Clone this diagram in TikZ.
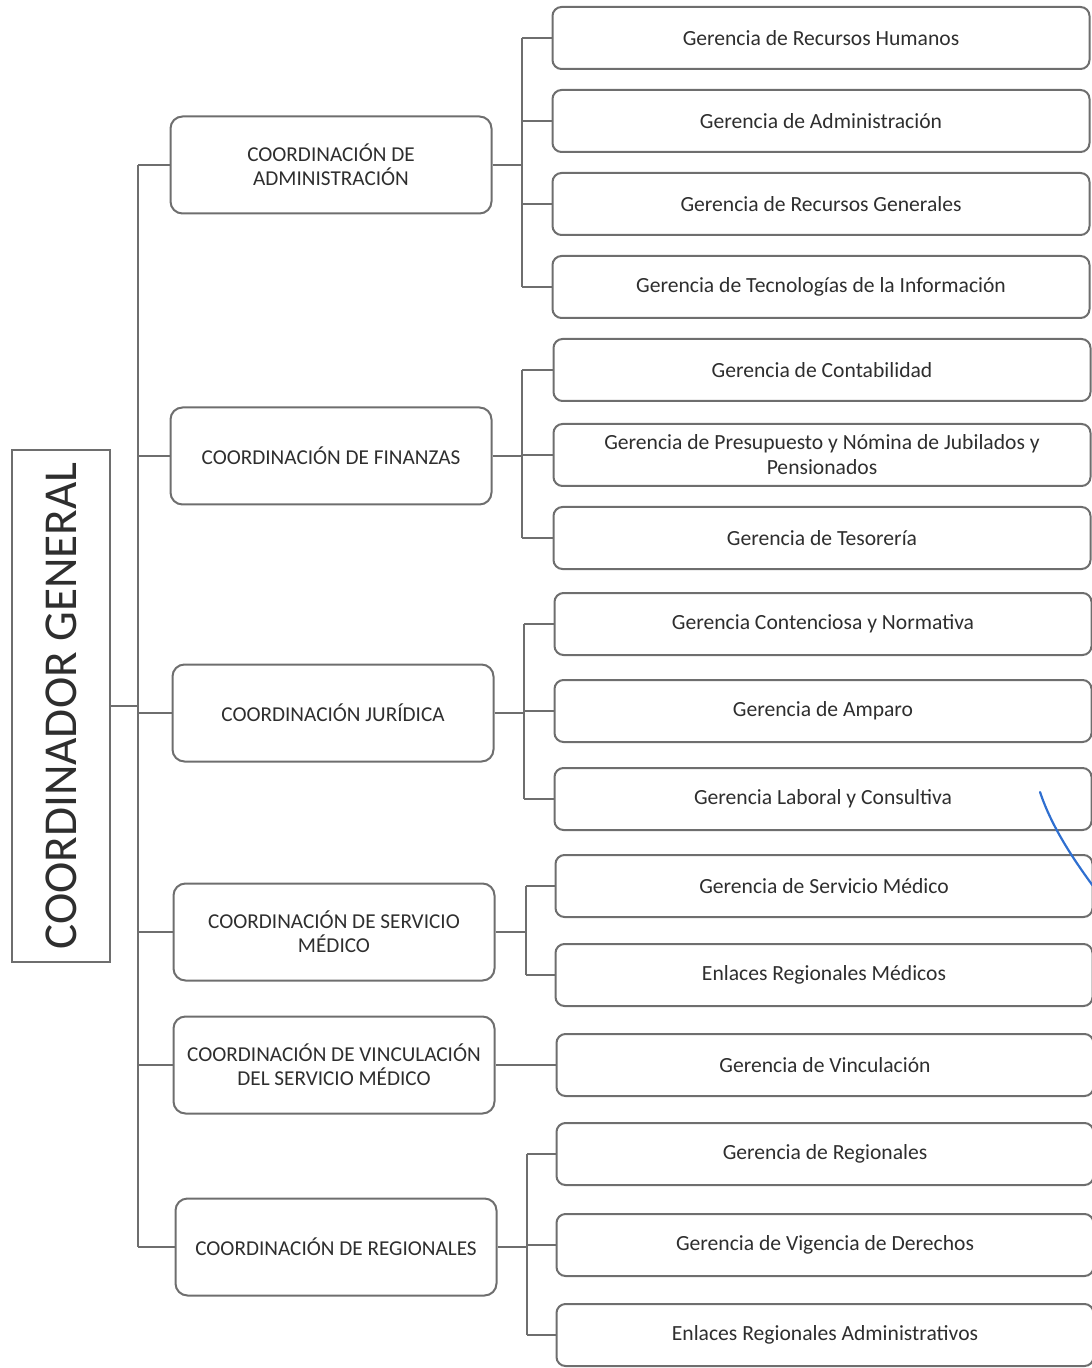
\documentclass[tikz,border=0pt]{standalone}
\usepackage{fontspec}
\setmainfont{Carlito}
\definecolor{linegray}{HTML}{6E6E6E}
\definecolor{inkgray}{HTML}{2E2E2E}
\definecolor{penblue}{HTML}{2F6FD0}

\begin{document}
\begin{tikzpicture}[x=0.5pt, y=-0.5pt, line width=1pt, text=inkgray,
  chief/.style={draw=linegray, rotate=90, minimum width=256pt, minimum height=49pt,
    inner sep=0pt, font=\fontsize{23.6}{26}\selectfont},
  coord/.style={draw=linegray, rounded corners=6pt, minimum width=160.5pt,
    minimum height=48.5pt, inner sep=0pt, align=center,
    font=\fontsize{10.6}{11.8}\selectfont},
  gerencia/.style={draw=linegray, rounded corners=4.5pt, minimum width=268.5pt,
    minimum height=31pt, inner sep=0pt, align=center,
    font=\fontsize{10.8}{12.5}\selectfont},
  tie/.style={draw=linegray, line width=1pt},
]
  \useasboundingbox (0,0) rectangle (1091,1368);

  % coordinador general
  \node[chief] (cg) at (61,706) {COORDINADOR GENERAL};
  \coordinate (trunk) at (138,0);

  % coordinaciones
  \node[coord] (c1) at (331,165)  {COORDINACIÓN DE\\ADMINISTRACIÓN};
  \node[coord] (c2) at (331,456)  {COORDINACIÓN DE FINANZAS};
  \node[coord] (c3) at (333,713)  {COORDINACIÓN JURÍDICA};
  \node[coord] (c4) at (334,932)  {COORDINACIÓN DE SERVICIO\\MÉDICO};
  \node[coord] (c5) at (334,1065) {COORDINACIÓN DE VINCULACIÓN\\DEL SERVICIO MÉDICO};
  \node[coord] (c6) at (336,1247) {COORDINACIÓN DE REGIONALES};

  % gerencias
  \node[gerencia] (g11) at (821,38)   {Gerencia de Recursos Humanos};
  \node[gerencia] (g12) at (821,121)  {Gerencia de Administración};
  \node[gerencia] (g13) at (821,204)  {Gerencia de Recursos Generales};
  \node[gerencia] (g14) at (821,287)  {Gerencia de Tecnologías de la Información};
  \node[gerencia] (g21) at (822,370)  {Gerencia de Contabilidad};
  \node[gerencia] (g22) at (822,455)  {Gerencia de Presupuesto y Nómina de Jubilados y\\Pensionados};
  \node[gerencia] (g23) at (822,538)  {Gerencia de Tesorería};
  \node[gerencia] (g31) at (823,624)  {Gerencia Contenciosa y Normativa};
  \node[gerencia] (g32) at (823,711)  {Gerencia de Amparo};
  \node[gerencia] (g33) at (823,799)  {Gerencia Laboral y Consultiva};
  \node[gerencia] (g41) at (824,886)  {Gerencia de Servicio Médico};
  \node[gerencia] (g42) at (824,975)  {Enlaces Regionales Médicos};
  \node[gerencia] (g51) at (825,1065) {Gerencia de Vinculación};
  \node[gerencia] (g61) at (825,1154) {Gerencia de Regionales};
  \node[gerencia] (g62) at (825,1245) {Gerencia de Vigencia de Derechos};
  \node[gerencia] (g63) at (825,1335) {Enlaces Regionales Administrativos};

  \coordinate (s1) at (522,0);
  \coordinate (s2) at (522,0);
  \coordinate (s3) at (524,0);
  \coordinate (s4) at (526,0);
  \coordinate (s6) at (527,0);

  % main trunk
  \draw[tie] (cg.south) -- (cg.south -| trunk);
  \draw[tie] (c1.west -| trunk) -- (c6.west -| trunk);
  \foreach \c in {c1,c2,c3,c4,c5,c6}
    \draw[tie] (\c.west -| trunk) -- (\c.west);

  % branches
  \draw[tie] (c1.east) -- (c1.east -| s1);
  \draw[tie] (g11.west -| s1) -- (g14.west -| s1);
  \foreach \g in {g11,g12,g13,g14}
    \draw[tie] (\g.west -| s1) -- (\g.west);
  \draw[tie] (c2.east) -- (c2.east -| s2);
  \draw[tie] (g21.west -| s2) -- (g23.west -| s2);
  \foreach \g in {g21,g22,g23}
    \draw[tie] (\g.west -| s2) -- (\g.west);
  \draw[tie] (c3.east) -- (c3.east -| s3);
  \draw[tie] (g31.west -| s3) -- (g33.west -| s3);
  \foreach \g in {g31,g32,g33}
    \draw[tie] (\g.west -| s3) -- (\g.west);
  \draw[tie] (c4.east) -- (c4.east -| s4);
  \draw[tie] (g41.west -| s4) -- (g42.west -| s4);
  \foreach \g in {g41,g42}
    \draw[tie] (\g.west -| s4) -- (\g.west);
  \draw[tie] (c5.east) -- (g51.west);
  \draw[tie] (c6.east) -- (c6.east -| s6);
  \draw[tie] (g61.west -| s6) -- (g63.west -| s6);
  \foreach \g in {g61,g62,g63}
    \draw[tie] (\g.west -| s6) -- (\g.west);

  % pen mark
  \draw[penblue, line width=1.1pt, line cap=round]
    (1040,792) .. controls (1050,822) and (1068,852) .. (1093,886);
\end{tikzpicture}
\end{document}
